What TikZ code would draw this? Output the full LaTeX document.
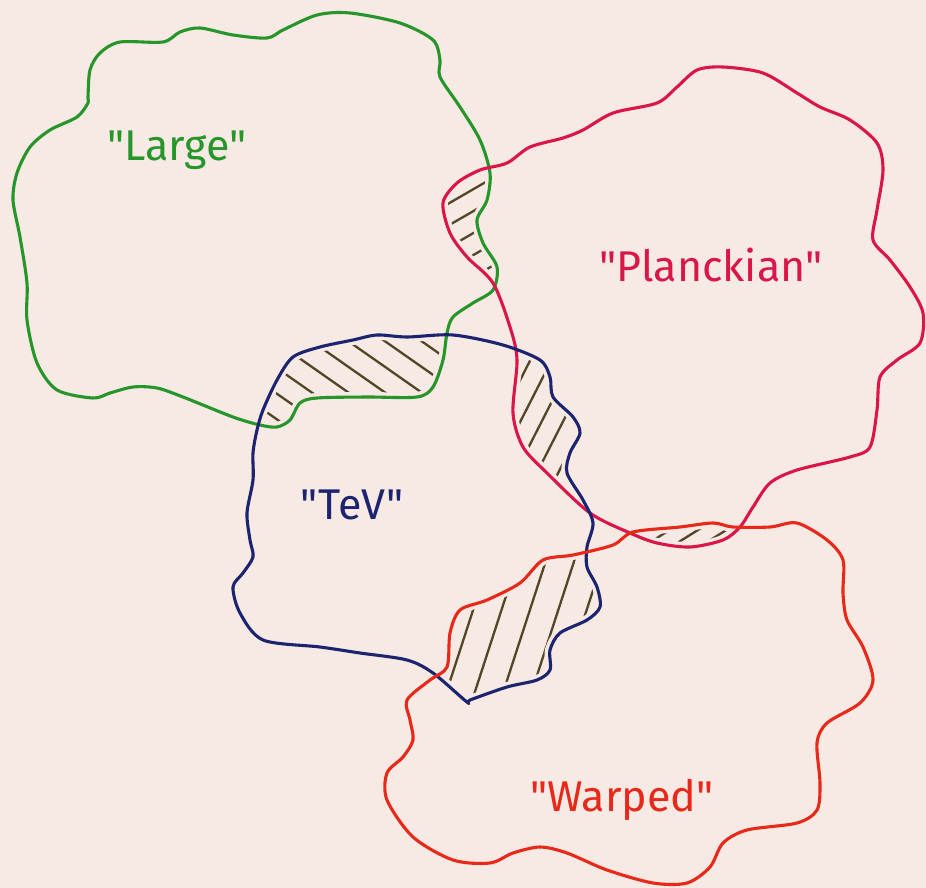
\documentclass[tikz,border=0pt]{standalone}
\usepackage{fontspec}
\setmainfont{Fira Sans}[Ligatures=TeXOff]
\definecolor{bgc}{RGB}{247,233,227}
\definecolor{cLarge}{RGB}{38,150,42}
\definecolor{cPlanck}{RGB}{218,22,72}
\definecolor{cTeV}{RGB}{28,36,112}
\definecolor{cWarp}{RGB}{232,40,24}
\definecolor{cHatch}{RGB}{82,70,38}
\tikzset{
  blob/.style={line width=3.1pt, line join=round},
  mask/.style={line width=10pt, draw=bgc},
  hatchline/.style={draw=cHatch, line width=2.3pt, line cap=round},
  lbl/.style={font=\fontsize{43}{50}\selectfont, inner sep=0pt}
}
\def\pLarge{plot[smooth cycle] coordinates {(88,97) (90,70) (100,53) (120,42) (163,42) (180,32) (200,28) (233,35) (267,38) (283,30) (317,15) (350,13) (400,23) (433,40) (440,60) (440,77) (460,107) (480,140) (490,173) (487,200) (477,220) (483,243) (497,267) (493,290) (473,303) (453,317) (447,333) (443,360) (433,387) (417,397) (367,397) (317,398) (300,403) (290,420) (277,427) (260,425) (233,417) (183,397) (157,388) (133,387) (110,393) (93,398) (57,390) (37,363) (27,320) (27,283) (20,237) (13,200) (17,173) (30,147) (50,130) (77,117) (88,103)}}
\def\pPlanck{plot[smooth cycle] coordinates {(723,67) (763,73) (797,93) (820,107) (850,120) (877,143) (883,170) (877,210) (873,240) (890,260) (910,287) (923,313) (920,343) (897,360) (880,377) (877,410) (870,447) (850,457) (797,470) (770,483) (753,507) (740,527) (723,540) (690,547) (657,543) (630,533) (590,513) (547,473) (523,447) (513,413) (517,360) (510,327) (493,283) (467,257) (450,233) (443,203) (457,183) (480,170) (507,163) (530,147) (563,138) (583,130) (613,113) (657,103) (677,87) (697,70)}}
\def\pTeV{plot[smooth cycle] coordinates {(257,430) (263,410) (277,380) (293,357) (320,347) (353,340) (377,335) (407,337) (453,335) (503,345) (540,360) (550,377) (553,397) (573,417) (580,433) (570,453) (567,473) (583,500) (593,523) (587,547) (587,567) (597,587) (600,607) (587,620) (560,633) (550,650) (550,670) (537,680) (507,687) (470,700) (467,702) (433,673) (407,660) (360,653) (320,647) (263,640) (240,613) (233,587) (243,573) (253,557) (250,540) (247,513) (253,480) (253,453)}}
\def\pWarp{plot[smooth cycle] coordinates {(407,700) (430,680) (447,667) (450,633) (460,610) (487,600) (520,583) (543,560) (573,555) (613,545) (633,532) (680,527) (713,523) (733,527) (770,527) (797,523) (827,540) (843,560) (843,593) (847,620) (863,647) (873,680) (860,703) (827,723) (817,743) (820,783) (817,810) (797,823) (747,830) (723,843) (710,867) (687,883) (653,883) (607,870) (567,853) (540,847) (513,853) (490,863) (453,860) (413,837) (387,800) (387,773) (403,757) (413,740) (410,720)}}
\newcommand\hatchreg[6]{%
  \begin{scope}
    \clip #1; \clip #2;
    \begin{scope}[shift={(#3,#4)}, rotate=#5]
      \foreach \i in {-14,...,14} \draw[hatchline] (-260,\i*#6) -- (260,\i*#6);
    \end{scope}
  \end{scope}}
\begin{document}
\begin{tikzpicture}[x=1pt,y=-1pt]
\fill[bgc] (0,0) rectangle (926,888);
\useasboundingbox (0,0) rectangle (926,888);
% hatching of overlaps
\hatchreg{\pLarge}{\pPlanck}{470}{235}{30}{19}
\hatchreg{\pLarge}{\pTeV}{360}{375}{-35}{21}
\hatchreg{\pPlanck}{\pTeV}{545}{415}{63}{19}
\hatchreg{\pTeV}{\pWarp}{525}{625}{72}{27}
\hatchreg{\pPlanck}{\pWarp}{690}{535}{32}{15}
% gaps between hatching and outlines
\draw[mask] \pLarge;
\draw[mask] \pPlanck;
\draw[mask] \pTeV;
\draw[mask] \pWarp;
% outlines
\draw[blob, cLarge] \pLarge;
\draw[blob, cPlanck] \pPlanck;
\draw[blob, cTeV] \pTeV;
\draw[blob, cWarp] \pWarp;
% labels
\node[lbl, text=cLarge] (large) at (177,150) {"Large"};
\node[lbl, text=cPlanck] (planck) at (711,265) {"Planckian"};
\node[lbl, text=cTeV] (tev) at (352,505) {"TeV"};
\node[lbl, text=cWarp] (warp) at (622,800) {"Warped"};
\end{tikzpicture}
\end{document}
